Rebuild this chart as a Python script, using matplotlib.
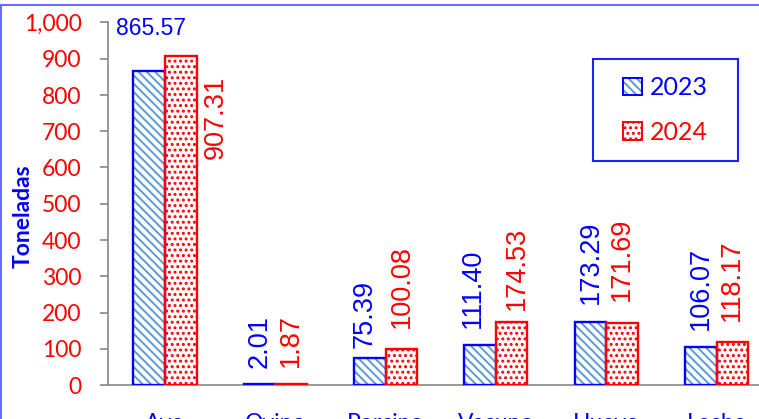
import numpy as np
import matplotlib
matplotlib.use("Agg")
import matplotlib.pyplot as plt
import matplotlib.patches as mpatches
from matplotlib.legend_handler import HandlerTuple

# ---- data ----
categories = ["Ave", "Ovino", "Porcino", "Vacuno", "Huevo", "Leche"]
series_names = ["2023", "2024"]
values_2023 = [865.57, 2.01, 75.39, 111.40, 173.29, 106.07]
values_2024 = [907.31, 1.87, 100.08, 174.53, 171.69, 118.17]
yticks = [0, 100, 200, 300, 400, 500, 600, 700, 800, 900, 1000]

# ---- label layout (pixel offsets from bar top, rotation) ----
lab_2023 = [(2, 43, 0, "center"), (0, 16, 90, "bottom"), (-5, 10, 90, "bottom"),
            (-7, 17, 90, "bottom"), (0, 18, 90, "bottom"), (0, 17, 90, "bottom")]
lab_2024 = [(35, -61, 90, "center"), (0, 17, 90, "bottom"), (0, 21, 90, "bottom"),
            (5, 12, 90, "bottom"), (0, 22, 90, "bottom"), (0, 21, 90, "bottom")]

BLUE = "#0000FF"
RED = "#FF0000"
HATCH_BLUE = "#5B9BD5"
GRAY = "#868686"
TICKFONT = "Lato"
LABFONT = "Liberation Sans"

plt.rcParams["hatch.linewidth"] = 1.4

W, H = 759, 419
fig = plt.figure(figsize=(W / 100, H / 100), dpi=100, facecolor="white")
ax = fig.add_axes([108 / W, (H - 385) / H, (771.7 - 108) / W, (385 - 22.5) / H])

x = np.arange(len(categories))
bw = 0.286

# hatch layers
ax.bar(x - bw / 2, values_2023, bw, facecolor="white", edgecolor=HATCH_BLUE,
       hatch="\\\\\\\\", linewidth=0, zorder=2)
ax.bar(x + bw / 2, values_2024, bw, facecolor="white", edgecolor=RED,
       hatch="...", linewidth=0, zorder=2)
# outlines
ax.bar(x - bw / 2, values_2023, bw, fill=False, edgecolor=BLUE, linewidth=1.7, zorder=3)
ax.bar(x + bw / 2, values_2024, bw, fill=False, edgecolor=RED, linewidth=1.7, zorder=3)

# data labels
for vals, specs, xo, col in [(values_2023, lab_2023, -bw / 2, BLUE),
                             (values_2024, lab_2024, bw / 2, RED)]:
    for i, (v, (dx, dy, rot, va)) in enumerate(zip(vals, specs)):
        fs = 16.5 if rot == 0 else 19.5
        ax.annotate(f"{v:.2f}", xy=(x[i] + xo, v), xytext=(dx, dy),
                    textcoords="offset pixels", rotation=rot, ha="center", va=va,
                    color=col, fontsize=fs, family=LABFONT, zorder=5,
                    annotation_clip=False)

ax.set_xlim(-0.517, 5.5)
ax.set_ylim(0, 1000)
ax.set_yticks(yticks)
ax.set_yticklabels([f"{t:,}" for t in yticks])
ax.set_xticks(x)
ax.set_xticklabels(categories)

for lab in ax.get_yticklabels():
    lab.set_color(RED)
    lab.set_fontfamily(TICKFONT)
    lab.set_fontsize(16.5)
for lab in ax.get_xticklabels():
    lab.set_color(BLUE)
    lab.set_fontfamily(TICKFONT)
    lab.set_fontsize(16.5)

ax.tick_params(axis="y", length=6, width=1.2, color=GRAY, pad=13, direction="out")
ax.tick_params(axis="x", length=0, pad=20)
for s in ["top", "right"]:
    ax.spines[s].set_visible(False)
for s in ["left", "bottom"]:
    ax.spines[s].set_color(GRAY)
    ax.spines[s].set_linewidth(1.2)

# y label
fig.text(23 / W, 1 - 216 / H, "Toneladas", rotation=90, ha="center", va="center",
         color=BLUE, fontweight="bold", fontsize=16.5, family=TICKFONT)

# legend
h1 = (mpatches.Patch(facecolor="white", edgecolor=HATCH_BLUE, hatch="\\\\\\\\", linewidth=0),
      mpatches.Patch(fill=False, edgecolor=BLUE, linewidth=1.4))
h2 = (mpatches.Patch(facecolor="white", edgecolor=RED, hatch="...", linewidth=0),
      mpatches.Patch(fill=False, edgecolor=RED, linewidth=1.4))
leg = fig.legend([h1, h2], series_names, handler_map={tuple: HandlerTuple(ndivide=1)},
                 loc="center", bbox_to_anchor=(665.5 / W, 1 - 110 / H),
                 frameon=False, prop={"family": TICKFONT, "size": 18},
                 handlelength=0.75, handleheight=0.7, handletextpad=0.33,
                 labelspacing=0.85)
for t, c in zip(leg.get_texts(), [BLUE, RED]):
    t.set_color(c)
fig.add_artist(mpatches.Rectangle((593 / W, 1 - 161 / H), (738 - 593) / W, (161 - 59) / H,
                                  transform=fig.transFigure, fill=False,
                                  edgecolor="#2020FF", linewidth=1.5))

# outer chart frame
fig.add_artist(mpatches.Rectangle((0.6 / W, -0.1), 2, (H - 5.5) / H + 0.1,
                                  transform=fig.transFigure, fill=False,
                                  edgecolor="#6B6BFF", linewidth=1.5, clip_on=False))

fig.savefig("out.png", dpi=100, facecolor="white")
